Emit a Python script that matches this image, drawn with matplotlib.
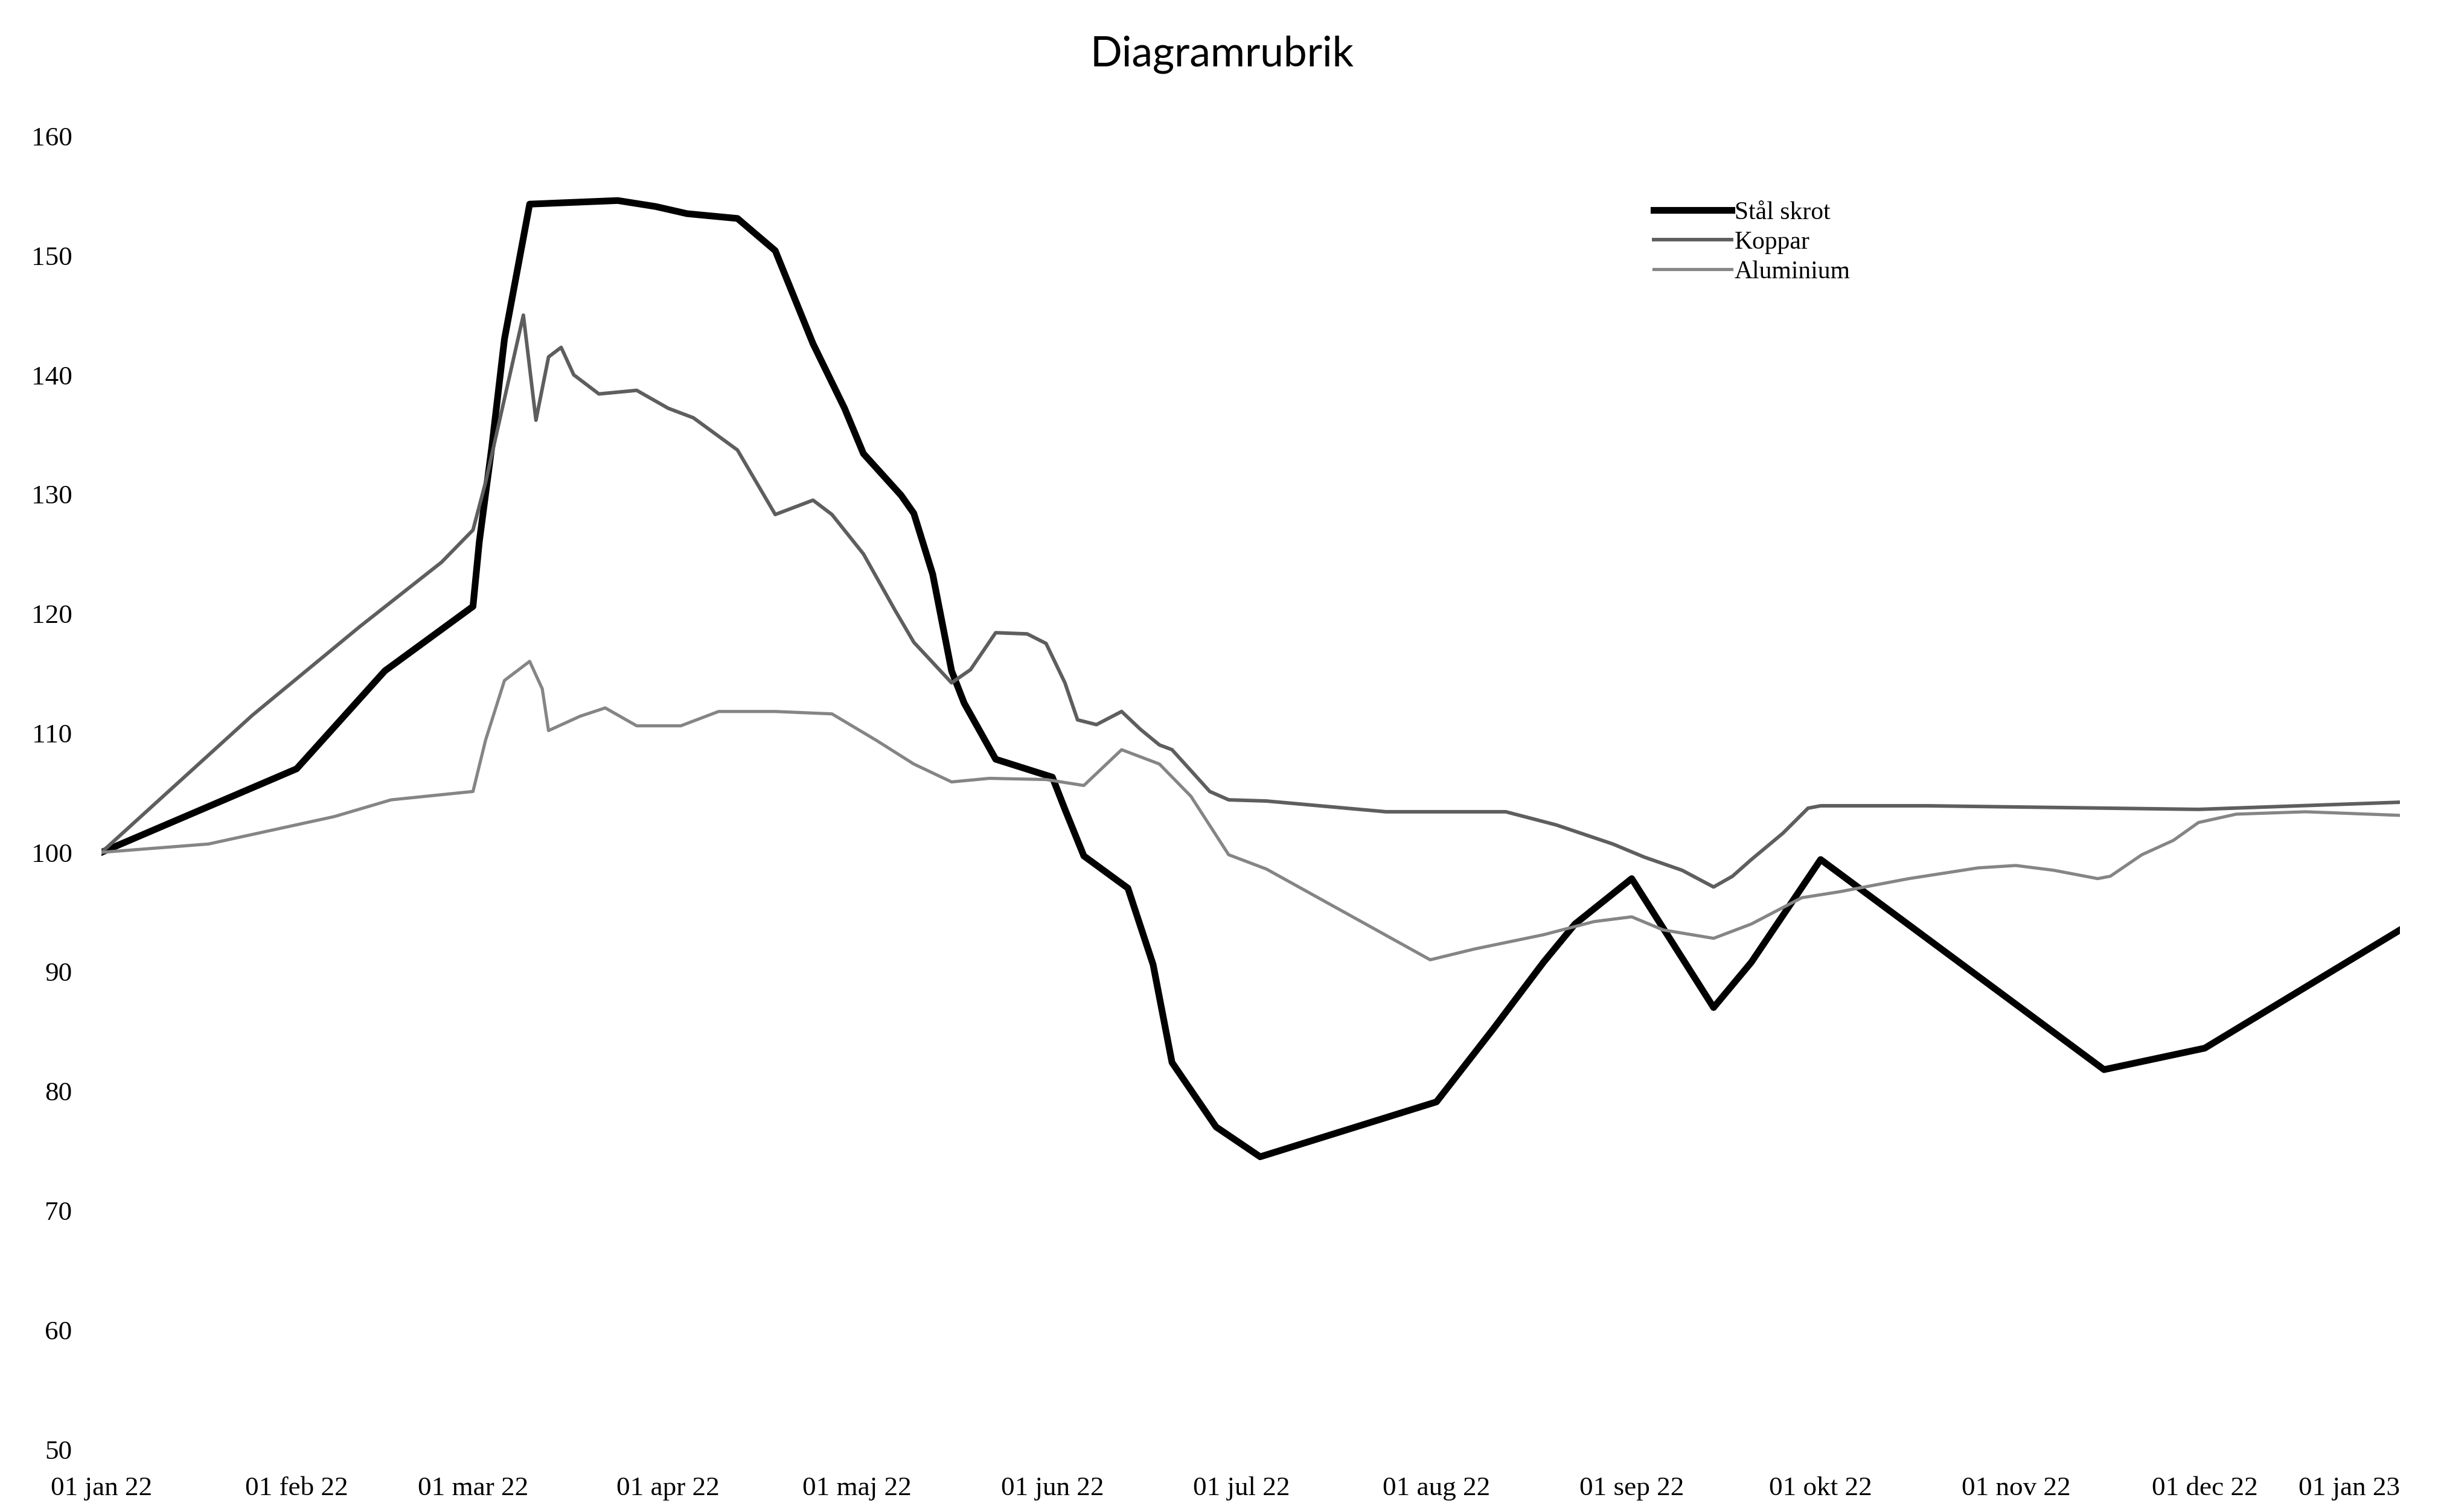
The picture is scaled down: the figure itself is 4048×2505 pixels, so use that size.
import pandas as pd
import matplotlib.pyplot as plt
import matplotlib.dates as mdates

# Series (index, 01 jan 22 = 100)
stal_dates = ["2022-01-01", "2022-02-01", "2022-02-15", "2022-03-01", "2022-03-02", "2022-03-04",
              "2022-03-06", "2022-03-10", "2022-03-24", "2022-03-30", "2022-04-04", "2022-04-12",
              "2022-04-18", "2022-04-24", "2022-04-29", "2022-05-02", "2022-05-08", "2022-05-10",
              "2022-05-13", "2022-05-16", "2022-05-18", "2022-05-23", "2022-06-01", "2022-06-03",
              "2022-06-06", "2022-06-13", "2022-06-17", "2022-06-20", "2022-06-27", "2022-07-04",
              "2022-08-01", "2022-08-10", "2022-08-18", "2022-08-23", "2022-09-01", "2022-09-14",
              "2022-09-20", "2022-10-01", "2022-11-15", "2022-12-01", "2023-01-01"]
stal = [100, 107.0, 115.2, 120.6, 126.0, 134.0,
        143.0, 154.3, 154.6, 154.1, 153.5, 153.1,
        150.4, 142.6, 137.2, 133.4, 129.9, 128.4,
        123.3, 115.2, 112.5, 107.8, 106.3, 103.6,
        99.7, 97.0, 90.6, 82.4, 77.0, 74.5,
        79.1, 85.2, 90.8, 94.0, 97.8, 87.0,
        90.8, 99.4, 81.8, 83.6, 93.5]

koppar_dates = ["2022-01-01", "2022-01-25", "2022-02-11", "2022-02-24", "2022-03-01",
                "2022-03-03", "2022-03-06", "2022-03-09", "2022-03-11", "2022-03-13", "2022-03-15",
                "2022-03-17", "2022-03-21", "2022-03-27", "2022-04-01", "2022-04-05", "2022-04-12",
                "2022-04-18", "2022-04-24", "2022-04-27", "2022-05-02", "2022-05-07", "2022-05-10",
                "2022-05-16", "2022-05-19", "2022-05-23", "2022-05-28", "2022-05-31", "2022-06-03",
                "2022-06-05", "2022-06-08", "2022-06-12", "2022-06-15", "2022-06-18", "2022-06-20",
                "2022-06-26", "2022-06-29", "2022-07-05", "2022-07-24", "2022-08-12", "2022-08-20",
                "2022-08-29", "2022-09-03", "2022-09-09", "2022-09-14", "2022-09-17", "2022-09-20",
                "2022-09-25", "2022-09-29", "2022-10-01", "2022-10-18", "2022-11-30", "2023-01-01"]
koppar = [100, 111.5, 118.9, 124.3, 127.0,
          131.0, 138.0, 145.0, 136.2, 141.5, 142.3,
          140.0, 138.4, 138.7, 137.2, 136.4, 133.7,
          128.3, 129.5, 128.3, 125.0, 120.3, 117.6,
          114.2, 115.3, 118.4, 118.3, 117.5, 114.2,
          111.1, 110.7, 111.8, 110.3, 109.0, 108.6,
          105.1, 104.4, 104.3, 103.4, 103.4, 102.3,
          100.7, 99.6, 98.5, 97.1, 98.0, 99.4,
          101.6, 103.7, 103.9, 103.9, 103.6, 104.2]

alu_dates = ["2022-01-01", "2022-01-18", "2022-02-07", "2022-02-16", "2022-03-01", "2022-03-03",
             "2022-03-06", "2022-03-10", "2022-03-12", "2022-03-13", "2022-03-18", "2022-03-22",
             "2022-03-27", "2022-04-03", "2022-04-09", "2022-04-18", "2022-04-27", "2022-05-04",
             "2022-05-10", "2022-05-16", "2022-05-22", "2022-05-31", "2022-06-06", "2022-06-12",
             "2022-06-18", "2022-06-23", "2022-06-29", "2022-07-05", "2022-07-31", "2022-08-07",
             "2022-08-18", "2022-08-26", "2022-09-01", "2022-09-06", "2022-09-14", "2022-09-20",
             "2022-09-28", "2022-10-04", "2022-10-15", "2022-10-26", "2022-11-01", "2022-11-07",
             "2022-11-14", "2022-11-16", "2022-11-21", "2022-11-26", "2022-11-30", "2022-12-06",
             "2022-12-17", "2023-01-01"]
alu = [100, 100.7, 103.0, 104.4, 105.1, 109.4,
       114.4, 116.0, 113.7, 110.2, 111.4, 112.1,
       110.6, 110.6, 111.8, 111.8, 111.6, 109.4,
       107.4, 105.9, 106.2, 106.1, 105.6, 108.6,
       107.4, 104.7, 99.8, 98.6, 91.0, 91.9,
       93.1, 94.2, 94.6, 93.5, 92.8, 94.0,
       96.2, 96.7, 97.8, 98.7, 98.9, 98.5,
       97.8, 98.0, 99.8, 101.0, 102.5, 103.2,
       103.4, 103.1]

tick_dates = ["2022-01-01", "2022-02-01", "2022-03-01", "2022-04-01", "2022-05-01", "2022-06-01",
              "2022-07-01", "2022-08-01", "2022-09-01", "2022-10-01", "2022-11-01", "2022-12-01",
              "2023-01-01"]
tick_labels = ["01 jan 22", "01 feb 22", "01 mar 22", "01 apr 22", "01 maj 22", "01 jun 22",
               "01 jul 22", "01 aug 22", "01 sep 22", "01 okt 22", "01 nov 22", "01 dec 22",
               "01 jan 23"]

fig = plt.figure(figsize=(16.192, 10.02), dpi=250)
ax = fig.add_axes([0.0415, 0.0415, 0.9405, 0.8685])

ax.plot(pd.to_datetime(stal_dates), stal, color="black", lw=3.2, label="Stål skrot")
ax.plot(pd.to_datetime(koppar_dates), koppar, color="#5e5e5e", lw=1.7, label="Koppar")
ax.plot(pd.to_datetime(alu_dates), alu, color="#858585", lw=1.5, label="Aluminium")

ax.set_xlim(pd.Timestamp("2022-01-01"), pd.Timestamp("2023-01-01"))
ax.set_ylim(50, 160)
ax.set_yticks(range(50, 161, 10))
ax.set_xticks(mdates.date2num(pd.to_datetime(tick_dates)))
ax.set_xticklabels(tick_labels)

for s in ax.spines.values():
    s.set_visible(False)
ax.tick_params(length=0, labelsize=13)
ax.tick_params(axis="x", pad=13)
ax.tick_params(axis="y", pad=14)
for lbl in ax.get_xticklabels() + ax.get_yticklabels():
    lbl.set_family("Liberation Serif")
# last date label would run off the right edge
ax.get_xticklabels()[-1].set_horizontalalignment("right")

fig.text(0.5, 0.964, "Diagramrubrik", ha="center", va="center", fontsize=20, family="Lato")

ax.legend(loc="upper left", bbox_to_anchor=(0.671, 0.958), frameon=False,
          prop={"family": "Liberation Serif", "size": 12}, handlelength=3.1,
          handletextpad=0.1, labelspacing=0.25, borderaxespad=0)

plt.savefig("out.png", dpi=250)
